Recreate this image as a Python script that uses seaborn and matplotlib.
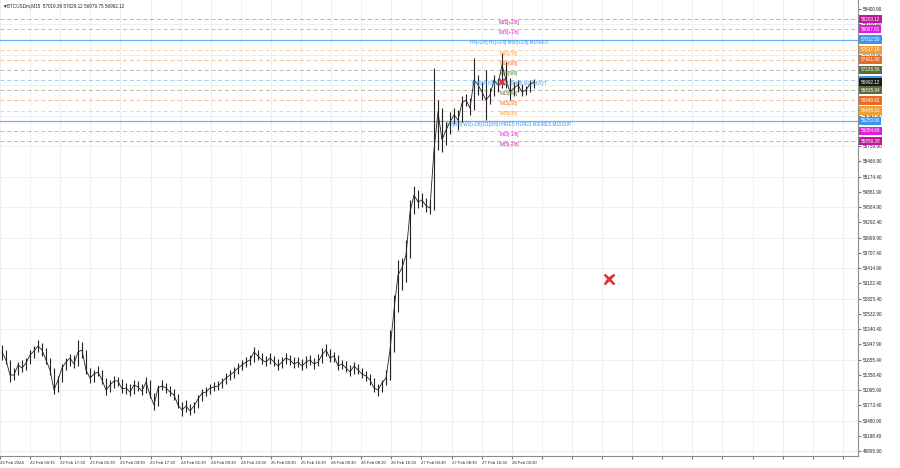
import numpy as np
import pandas as pd
import matplotlib
matplotlib.use("Agg")
import matplotlib.pyplot as plt
import matplotlib.transforms as mtransforms
import seaborn as sns

# BTCUSDm M15 chart, bars grouped by hour
close = [51801, 51647, 51358, 51358, 51551, 51493, 51589, 51743, 51820, 51916,
         51839, 51647, 51454, 51070, 51262, 51493, 51608, 51685, 51570, 51801,
         51839, 51454, 51300, 51377, 51416, 51262, 51070, 51166, 51243, 51243,
         51089, 51108, 51031, 51166, 51127, 51050, 51224, 50973, 50781, 51108,
         51147, 51108, 51031, 50973, 50781, 50685, 50762, 50666, 50762, 50896,
         51012, 51031, 51108, 51127, 51147, 51224, 51300, 51358, 51416, 51493,
         51551, 51608, 51647, 51801, 51724, 51647, 51608, 51685, 51608, 51531,
         51608, 51685, 51647, 51570, 51608, 51531, 51608, 51647, 51570, 51608,
         51743, 51839, 51685, 51724, 51531, 51570, 51493, 51416, 51531, 51454,
         51377, 51339, 51262, 51108, 51070, 51204, 51300, 51839, 52609, 53282,
         53417, 53667, 54494, 54821, 54687, 54725, 54610, 54571, 55687, 56418,
         55880, 56072, 56226, 56361, 56264, 56591, 56649, 56495, 57034, 56938,
         56803, 56649, 56745, 57034, 56938, 57323, 57034, 56803, 56880, 56938,
         56803, 56842, 56957, 56992.12]
high = [51935, 51839, 51647, 51493, 51608, 51647, 51685, 51839, 51916, 52032,
        51974, 51878, 51685, 51493, 51339, 51570, 51685, 51762, 51743, 52032,
        51993, 51839, 51493, 51454, 51531, 51454, 51300, 51262, 51339, 51320,
        51281, 51204, 51185, 51262, 51243, 51185, 51320, 51262, 51012, 51166,
        51262, 51204, 51147, 51089, 50993, 50839, 50877, 50800, 50839, 50973,
        51089, 51127, 51185, 51224, 51243, 51300, 51397, 51454, 51512, 51589,
        51647, 51705, 51743, 51897, 51839, 51782, 51724, 51782, 51724, 51666,
        51705, 51782, 51743, 51705, 51705, 51666, 51724, 51743, 51685, 51762,
        51878, 51955, 51858, 51801, 51743, 51647, 51628, 51551, 51608, 51570,
        51493, 51435, 51377, 51300, 51185, 51262, 51454, 52224, 52897, 53571,
        53609, 53956, 54725, 54995, 54918, 54860, 54764, 54725, 57265, 56649,
        56495, 56226, 56418, 56495, 56457, 56726, 56765, 56688, 57457, 57130,
        56996, 57226, 56880, 57130, 57073, 57554, 57380, 57073, 56996, 57034,
        56957, 56919, 57034, 57053]
low = [51647, 51570, 51224, 51262, 51358, 51416, 51454, 51570, 51685, 51801,
       51724, 51570, 51358, 50993, 51031, 51224, 51454, 51531, 51493, 51531,
       51685, 51377, 51204, 51224, 51339, 51185, 50973, 51031, 51108, 51147,
       51012, 50993, 50954, 50993, 51050, 50973, 51012, 50916, 50685, 50762,
       51070, 51012, 50954, 50877, 50723, 50569, 50646, 50589, 50627, 50723,
       50858, 50954, 50993, 51050, 51070, 51108, 51185, 51262, 51300, 51377,
       51454, 51512, 51551, 51608, 51647, 51570, 51531, 51570, 51531, 51454,
       51493, 51570, 51551, 51493, 51512, 51454, 51493, 51551, 51474, 51531,
       51589, 51724, 51608, 51608, 51454, 51474, 51416, 51339, 51377, 51377,
       51300, 51243, 51166, 51031, 50954, 51031, 51166, 51262, 51801, 52570,
       52994, 53148, 53609, 54456, 54571, 54591, 54494, 54456, 54533, 55687,
       55649, 55783, 55995, 56187, 56072, 56226, 56534, 56361, 56457, 56745,
       56649, 56264, 56572, 56726, 56803, 56880, 56880, 56649, 56726, 56803,
       56726, 56745, 56803, 56880]

time_labels = ["22 Feb 2024", "22 Feb 09:15", "22 Feb 17:30", "23 Feb 01:30",
               "23 Feb 09:30", "23 Feb 17:30", "24 Feb 01:30", "24 Feb 09:30",
               "24 Feb 23:30", "25 Feb 08:30", "25 Feb 16:30", "26 Feb 00:30",
               "26 Feb 08:30", "26 Feb 16:30", "27 Feb 00:30", "27 Feb 08:30",
               "27 Feb 16:30", "28 Feb 00:30"]

price_ticks = [58400.90, 58108.40, 57815.90, 57518.90, 57226.40, 56933.90,
               56641.40, 56348.90, 56056.40, 55759.90, 55466.90, 55174.40,
               54881.90, 54584.90, 54292.40, 53999.90, 53707.40, 53414.90,
               53122.40, 52825.40, 52532.90, 52240.40, 51947.90, 51655.40,
               51358.40, 51065.90, 50773.40, 50480.90, 50188.40, 49895.90]

# Murrey math levels
levels = [58203.12, 58007.81, 57812.50, 57617.19, 57421.88, 57226.56, 57031.25,
          56835.94, 56640.62, 56445.31, 56250.00, 56054.69, 55859.38]
level_names = ["M15[+2/8]", "M15[+1/8]", "H4[+2/8] H1[+2/8] M30[+2/8] M15RES",
               "M15[7/8]", "M15[6/8]", "M15[5/8]",
               "H4[6/8] H1[6/8] M30[4/8] M15PIVOT",
               "M15[3/8]", "M15[2/8]", "M15[1/8]",
               "H4[8/8] W1[+1/8] D1[8/8] H4RES H1RES M30RES M15SUP",
               "M15[-1/8]", "M15[-2/8]"]
level_colors = ["#C0189C", "#E01EE0", "#3C96F0", "#F0A030", "#E86A28", "#5C6B3C",
                "#3C96F0", "#5C6B3C", "#E86A28", "#F0A030", "#3C96F0", "#E01EE0",
                "#C0189C"]
level_styles = ["--", "--", "-", "--", "--", "--", "--", "--", "--", "--", "-", "--", "--"]

current_price = 56992.12
header = "BTCUSDm,M15  57019.39 57029.12 56979.75 56992.12"

cross_bar = [151.75, 125.0]
cross_price = [53205, 56996]

sns.set_style("white")
plt.rcParams["font.family"] = ["Liberation Sans", "DejaVu Sans"]

fig = plt.figure(figsize=(9, 4.68), dpi=100)
ax = fig.add_axes([0, 12 / 468, 858 / 900, 456 / 468])

bars = np.arange(len(close))
df = pd.DataFrame({"bar": bars, "close": close, "high": high, "low": low})

# grid
tick_pos = np.arange(29) * 7.525 - 0.5
for t in tick_pos:
    ax.axvline(t, color="#ececec", lw=0.6, zorder=0)
for p in price_ticks[::-1][::2]:
    ax.axhline(p, color="#ececec", lw=0.6, zorder=0)

# level lines
for lvl, col, ls in zip(levels, level_colors, level_styles):
    if ls == "-":
        ax.axhline(lvl, color=col, lw=0.9, alpha=0.75, zorder=1)
    else:
        ax.axhline(lvl, color=col, lw=0.7, ls=(0, (4, 3)), alpha=0.45, zorder=1)

# price bars
ax.vlines(df["bar"], df["low"], df["high"], colors="#222222", linewidth=0.8, zorder=2)
sns.lineplot(data=df, x="bar", y="close", ax=ax, color="#222222", linewidth=0.6,
             estimator=None, zorder=2)

# level captions
for lvl, name, col in zip(levels, level_names, level_colors):
    ax.annotate(name, (126.75, lvl), xytext=(0, -0.6), textcoords="offset points",
                ha="center", va="top", fontsize=3.3, color=col, zorder=4)

ax.plot(cross_bar, cross_price, ls="none", marker="x", color="#E03030",
        markersize=5, markeredgewidth=1.5, zorder=5)
ax.plot(cross_bar[:1], cross_price[:1], ls="none", marker="x", color="#E03030",
        markersize=6.5, markeredgewidth=1.8, zorder=5)

ax.set_xlim(-0.5, 214)
ax.set_ylim(49800, 58573)

ax.yaxis.tick_right()
ax.set_yticks(price_ticks)
ax.set_yticklabels([f"{p:.2f}" for p in price_ticks])
ax.set_xticks(tick_pos)
ax.set_xticklabels(time_labels + [""] * (len(tick_pos) - len(time_labels)),
                   ha="left")
ax.tick_params(axis="y", labelsize=3.3, length=2, pad=1.5, color="#777777",
               labelcolor="#222222", right=True)
ax.tick_params(axis="x", labelsize=3.1, length=2, pad=1.5, color="#777777",
               labelcolor="#222222", bottom=True)
ax.set_xlabel("")
ax.set_ylabel("")

for s in ["top", "left"]:
    ax.spines[s].set_visible(False)
for s in ["right", "bottom"]:
    ax.spines[s].set_color("#8c8c8c")
    ax.spines[s].set_linewidth(0.8)

# price boxes on the right scale
trans = mtransforms.blended_transform_factory(ax.transAxes, ax.transData)
for lvl, col in zip(levels, level_colors):
    ax.text(1.003, lvl, f"{lvl:.2f}", transform=trans, ha="left", va="center",
            fontsize=3.3, color="white", clip_on=False, zorder=6,
            bbox=dict(boxstyle="square,pad=0.35", facecolor=col, edgecolor="none"))
ax.text(1.003, current_price, f"{current_price:.2f}", transform=trans, ha="left",
        va="center", fontsize=3.3, color="white", clip_on=False, zorder=6,
        bbox=dict(boxstyle="square,pad=0.35", facecolor="#1a1a1a", edgecolor="none"))

fig.text(0.002, 0.992, "▼", fontsize=3.3, va="top", ha="left", color="#222222")
fig.text(0.008, 0.992, header, fontsize=3.3, va="top", ha="left", color="#222222")

fig.savefig("out.png", dpi=100)
